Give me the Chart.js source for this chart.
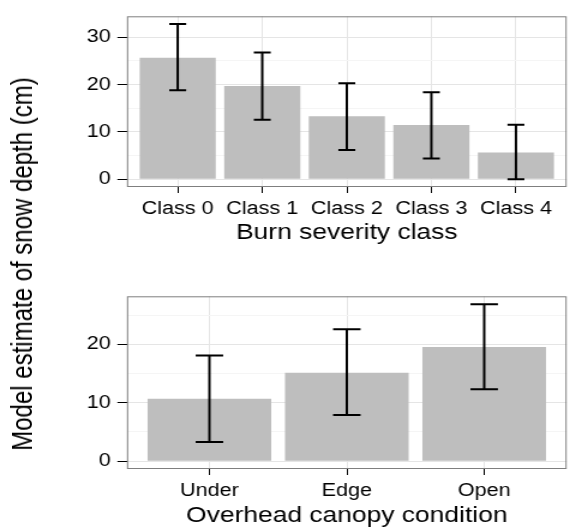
<!DOCTYPE html>
<html>
<head>
<meta charset="utf-8">
<script src="https://cdn.jsdelivr.net/npm/chart.js@4.4.1/dist/chart.umd.min.js"></script>
<style>
  body { margin: 0; background: #fff; overflow: hidden; }
  /* the reference figure is stretched horizontally by about 1.2 */
  #wrap {
    position: relative; width: 474px; height: 529px;
    transform: scaleX(1.2); transform-origin: 0 0;
  }
  #chartTop { position: absolute; left: 0; top: 0; }
  #chartBottom { position: absolute; left: 0; top: 280px; }
  #yTitle {
    position: absolute; left: 19px; top: 264px;
    transform: translate(-50%, -50%) rotate(-90deg);
    font: 24px 'Liberation Sans', Arial, sans-serif;
    color: #000; white-space: nowrap;
  }
</style>
</head>
<body>
<div id="wrap">
  <canvas id="chartTop" width="474" height="250"></canvas>
  <canvas id="chartBottom" width="474" height="249"></canvas>
  <div id="yTitle">Model estimate of snow depth (cm)</div>
</div>
<script>
// burn severity panel
const burnClasses = ['Class 0', 'Class 1', 'Class 2', 'Class 3', 'Class 4'];
const burnMeans = [25.7, 19.7, 13.3, 11.45, 5.65];
const burnLower = [18.8, 12.6, 6.2, 4.4, 0.0];
const burnUpper = [32.8, 26.8, 20.3, 18.4, 11.5];
const burnTicks = [0, 10, 20, 30];
const burnMinorTicks = [5, 15, 25];

// canopy panel
const canopyClasses = ['Under', 'Edge', 'Open'];
const canopyMeans = [10.7, 15.15, 19.55];
const canopyLower = [3.3, 7.9, 12.3];
const canopyUpper = [18.1, 22.6, 26.9];
const canopyTicks = [0, 10, 20];
const canopyMinorTicks = [5, 15, 25];

Chart.defaults.font.family = "'Liberation Sans', Arial, sans-serif";

const MAJOR_GRID = '#E5E5E5';
const MINOR_GRID = '#F5F5F5';

// draws error bars + the grey panel border
const errorBars = {
    id: 'errorBars',
    afterDatasetsDraw(chart, args, opts) {
        const { ctx, scales: { x, y } } = chart;
        const half = (x.getPixelForValue(opts.capWidth) - x.getPixelForValue(0)) / 2;
        ctx.save();
        ctx.strokeStyle = '#000';
        ctx.lineWidth = 2;
        opts.lower.forEach((lo, i) => {
            const px = x.getPixelForValue(i);
            const yLo = y.getPixelForValue(lo);
            const yHi = y.getPixelForValue(opts.upper[i]);
            ctx.beginPath();
            ctx.moveTo(px, yLo); ctx.lineTo(px, yHi);
            ctx.moveTo(px - half, yLo); ctx.lineTo(px + half, yLo);
            ctx.moveTo(px - half, yHi); ctx.lineTo(px + half, yHi);
            ctx.stroke();
        });
        ctx.restore();
    },
    afterDraw(chart) {
        const { ctx, chartArea: a } = chart;
        ctx.save();
        ctx.strokeStyle = '#7F7F7F';
        ctx.lineWidth = 1;
        ctx.strokeRect(a.left + 0.5, a.top + 0.5, a.right - a.left - 1, a.bottom - a.top - 1);
        ctx.restore();
    }
};

function makePanel(id, labels, means, lower, upper, major, minor, title, padTop, xHeight, titlePad) {
    // ggplot style: 5% expansion of the data range, 0.6 units on the discrete axis
    const lo = Math.min(0, ...lower);
    const hi = Math.max(...upper);
    const ext = (hi - lo) * 0.05;

    return new Chart(document.getElementById(id), {
        type: 'bar',
        data: {
            datasets: [{
                data: means.map((m, i) => ({ x: i, y: m })),
                backgroundColor: '#BEBEBE',
                borderWidth: 0,
                categoryPercentage: 0.9,
                barPercentage: 1
            }]
        },
        options: {
            responsive: false,
            animation: false,
            layout: { padding: { top: padTop, right: 1.8, left: 0, bottom: 0 } },
            plugins: {
                legend: { display: false },
                tooltip: { enabled: false },
                errorBars: { lower: lower, upper: upper, capWidth: 0.2 }
            },
            scales: {
                x: {
                    type: 'linear',
                    offset: false,
                    min: -0.6,
                    max: labels.length - 0.4,
                    afterBuildTicks: s => { s.ticks = labels.map((l, i) => ({ value: i })); },
                    afterFit: s => { s.height = xHeight; },
                    ticks: {
                        callback: v => labels[v],
                        color: '#000',
                        font: { size: 18 },
                        padding: 5.5,
                        maxRotation: 0,
                        autoSkip: false
                    },
                    grid: { color: MAJOR_GRID, tickColor: '#000', tickLength: 6, offset: false },
                    border: { display: false },
                    title: {
                        display: true,
                        text: title,
                        color: '#000',
                        font: { size: 22 },
                        padding: { top: 0, bottom: titlePad }
                    }
                },
                y: {
                    min: lo - ext,
                    max: hi + ext,
                    afterBuildTicks: s => {
                        s.ticks = major.concat(minor).sort((a, b) => a - b).map(v => ({ value: v }));
                    },
                    afterFit: s => { s.width = 105.8; },
                    ticks: {
                        callback: v => major.includes(v) ? v : '',
                        color: '#000',
                        font: { size: 18 },
                        padding: 5.5
                    },
                    grid: {
                        color: c => (c.tick && major.includes(c.tick.value)) ? MAJOR_GRID : MINOR_GRID,
                        tickColor: c => (c.tick && major.includes(c.tick.value)) ? '#000' : 'rgba(0,0,0,0)',
                        tickLength: 8
                    },
                    border: { display: false }
                }
            }
        },
        plugins: [errorBars]
    });
}

makePanel('chartTop', burnClasses, burnMeans, burnLower, burnUpper,
    burnTicks, burnMinorTicks, 'Burn severity class', 13, 63, 4);
makePanel('chartBottom', canopyClasses, canopyMeans, canopyLower, canopyUpper,
    canopyTicks, canopyMinorTicks, 'Overhead canopy condition', 15, 60, 0);
</script>
</body>
</html>
